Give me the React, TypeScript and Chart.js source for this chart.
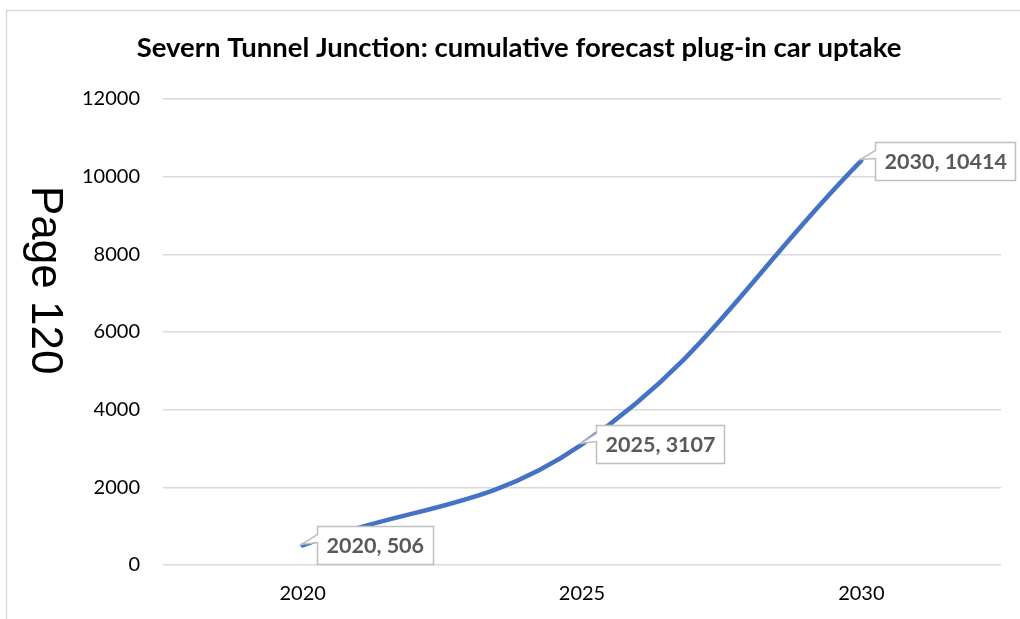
import React, { useEffect, useRef } from "react";
import { Chart, registerables } from "chart.js";

Chart.register(...registerables);

const years = ["2020", "2025", "2030"];
const uptake = [506, 3107, 10414];
const yMin = 0;
const yMax = 12000;
const yStep = 2000;
const chartTitle = "Severn Tunnel Junction: cumulative forecast plug-in car uptake";
const pageText = "Page 120";

const W = 1020;
const H = 619;

const framePlugin = {
  id: "frame",
  beforeDraw(chart: any) {
    const ctx = chart.ctx;
    ctx.save();
    ctx.fillStyle = "#ffffff";
    ctx.fillRect(0, 0, chart.width, chart.height);
    ctx.strokeStyle = "#d9d9d9";
    ctx.lineWidth = 1.5;
    ctx.strokeRect(6.5, 10.5, 2000, 2000);
    // title
    ctx.fillStyle = "#000000";
    ctx.font = "bold 27.5px Lato";
    ctx.textAlign = "center";
    ctx.textBaseline = "middle";
    ctx.fillText(chartTitle, 519, 48);
    ctx.restore();
  },
};

const calloutPlugin = {
  id: "callouts",
  afterDatasetsDraw(chart: any) {
    const ctx = chart.ctx;
    const meta = chart.getDatasetMeta(0);
    ctx.save();
    ctx.font = "bold 21.5px Lato";
    meta.data.forEach((pt: any, i: number) => {
      const px = pt.x;
      const py = pt.y;
      const text = `${years[i]}, ${uptake[i]}`;
      const tw = ctx.measureText(text).width;
      const bx = Math.round(px + 14) + 0.5;
      const w = Math.round(tw + 18);
      const h = 38;
      const by = Math.round(py - 19) + 0.5;
      const cy = by + h / 2;
      ctx.beginPath();
      ctx.moveTo(bx, by);
      ctx.lineTo(bx + w, by);
      ctx.lineTo(bx + w, by + h);
      ctx.lineTo(bx, by + h);
      ctx.lineTo(bx, cy - 3);
      ctx.lineTo(px - 1, py - 1);
      ctx.lineTo(bx, cy - 11);
      ctx.closePath();
      ctx.fillStyle = "#ffffff";
      ctx.fill();
      ctx.strokeStyle = "#bfbfbf";
      ctx.lineWidth = 1.5;
      ctx.stroke();
      ctx.fillStyle = "#595959";
      ctx.textAlign = "left";
      ctx.textBaseline = "middle";
      ctx.fillText(text, bx + 9, cy + 1);
    });
    ctx.restore();
  },
  afterDraw(chart: any) {
    const ctx = chart.ctx;
    ctx.save();
    ctx.translate(32, 186);
    ctx.rotate(Math.PI / 2);
    ctx.font = "44px 'Liberation Sans'";
    ctx.fillStyle = "#000000";
    ctx.textAlign = "left";
    ctx.textBaseline = "alphabetic";
    ctx.fillText(pageText, 0, 0);
    ctx.restore();
  },
};

export default function App() {
  const ref = useRef<HTMLCanvasElement | null>(null);

  useEffect(() => {
    if (!ref.current) return;
    const chart = new Chart(ref.current, {
      type: "line",
      data: {
        labels: years,
        datasets: [
          {
            data: uptake,
            borderColor: "#4472C4",
            borderWidth: 4.5,
            pointRadius: 0,
            tension: 0.4,
            fill: false,
            borderCapStyle: "round",
          },
        ],
      },
      options: {
        animation: false,
        responsive: false,
        maintainAspectRatio: false,
        layout: { padding: { left: 0, top: 99, right: 19, bottom: 0 } },
        plugins: {
          legend: { display: false },
          title: { display: false },
          tooltip: { enabled: false },
        },
        scales: {
          x: {
            type: "category",
            offset: true,
            grid: { display: false, drawTicks: false },
            border: { display: false },
            ticks: {
              font: { family: "Lato", size: 20 },
              color: "#000000",
              padding: 17,
              maxRotation: 0,
            },
            afterFit: (s: any) => {
              s.height = 54;
            },
          },
          y: {
            min: yMin,
            max: yMax,
            grid: { color: "#d9d9d9", lineWidth: 1.5, drawTicks: false },
            border: { display: false },
            ticks: {
              stepSize: yStep,
              font: { family: "Lato", size: 20 },
              color: "#000000",
              padding: 23,
              callback: (v: any) => String(v),
            },
            afterFit: (s: any) => {
              s.width = 163;
            },
          },
        },
      },
      plugins: [framePlugin, calloutPlugin],
    } as any);
    return () => chart.destroy();
  }, []);

  return (
    <div style={{ position: "fixed", left: 0, top: 0, width: W, height: H, background: "#fff" }}>
      <canvas ref={ref} width={W} height={H} style={{ width: W, height: H, display: "block" }} />
    </div>
  );
}
